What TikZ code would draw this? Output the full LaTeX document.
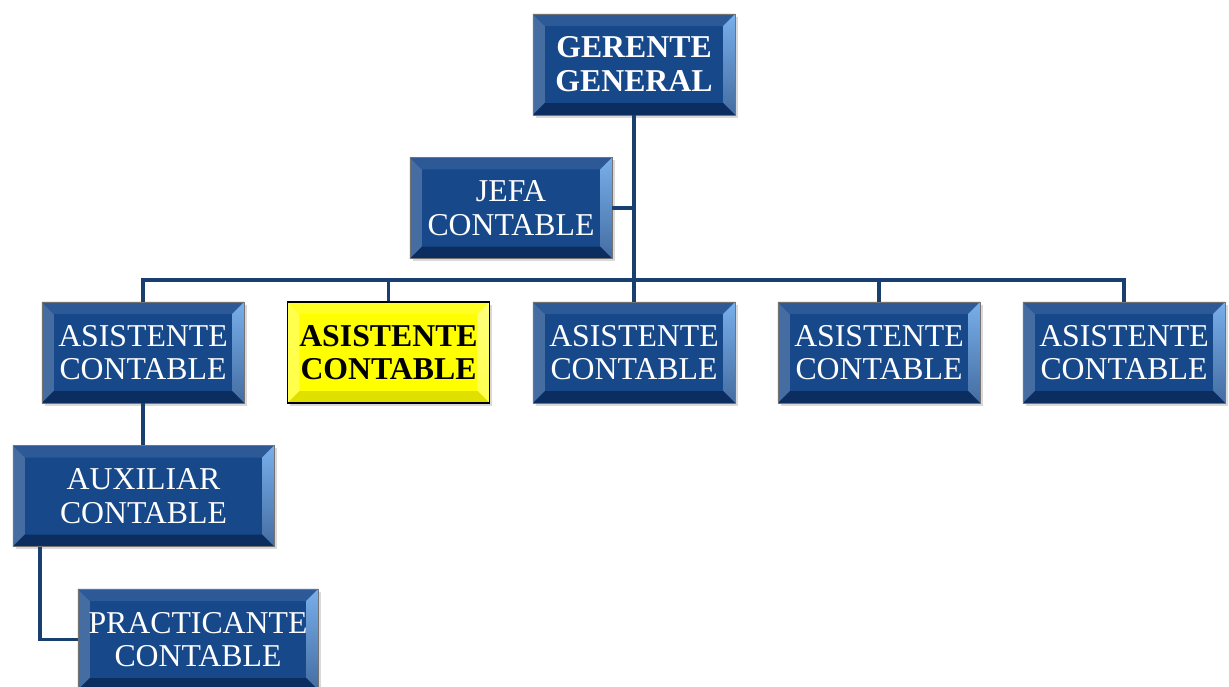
\documentclass[tikz,border=0pt]{standalone}
\usepackage{fontspec}
\setmainfont{Liberation Serif}
\usetikzlibrary{calc,shadows}

\definecolor{azul}{RGB}{22,72,138}
\definecolor{azulbrillo}{RGB}{120,175,235}
\definecolor{azuloscuro}{RGB}{12,45,95}
\definecolor{linea}{RGB}{25,62,112}
\definecolor{amarillo}{RGB}{255,255,0}

\tikzset{
  bisel/.style n args={4}{path picture={
      \fill[#1] (path picture bounding box.north west) -- ($(path picture bounding box.north west)+(0.3cm,-0.3cm)$)
        -- ($(path picture bounding box.south west)+(0.3cm,0.3cm)$) -- (path picture bounding box.south west) -- cycle;
      \fill[#2] (path picture bounding box.north west) -- ($(path picture bounding box.north west)+(0.3cm,-0.3cm)$)
        -- ($(path picture bounding box.north east)+(-0.3cm,-0.3cm)$) -- (path picture bounding box.north east) -- cycle;
      \shade[top color=#3, bottom color=#1] (path picture bounding box.north east) -- ($(path picture bounding box.north east)+(-0.3cm,-0.3cm)$)
        -- ($(path picture bounding box.south east)+(-0.3cm,0.3cm)$) -- (path picture bounding box.south east) -- cycle;
      \fill[#4] (path picture bounding box.south west) -- ($(path picture bounding box.south west)+(0.3cm,0.3cm)$)
        -- ($(path picture bounding box.south east)+(-0.3cm,0.3cm)$) -- (path picture bounding box.south east) -- cycle;
    }},
  cargo/.style={draw=black!55, thin, fill=azul, text=white, align=center,
    minimum width=5.05cm, minimum height=2.525cm, inner sep=0pt,
    font=\fontsize{22.6}{24}\selectfont,
    drop shadow={shadow xshift=2pt, shadow yshift=-2pt, opacity=0.3},
    bisel={azul!80!white}{azul!90!white}{azulbrillo}{azuloscuro}},
  destacado/.style={cargo, fill=amarillo, text=black, draw=black, thick,
    font=\fontsize{22.6}{24}\selectfont\bfseries,
    bisel={amarillo!70!white}{amarillo!85!white}{amarillo!50!white}{amarillo!88!black}},
  conector/.style={draw=linea, line width=2.8pt}
}

\begin{document}
\begin{tikzpicture}[x=0.025cm, y=-0.025cm]
  \useasboundingbox (0,0) rectangle (1229,686);

  % cargos
  \node[cargo, font=\fontsize{22.6}{24}\selectfont\bfseries] (gerente) at (634,64.5) {GERENTE\\GENERAL};
  \node[cargo] (jefa) at (511,208) {JEFA\\CONTABLE};
  \node[cargo] (asis1) at (143,352.5) {ASISTENTE\\CONTABLE};
  \node[destacado] (asis2) at (388.5,352.5) {ASISTENTE\\CONTABLE};
  \node[cargo] (asis3) at (634,352.5) {ASISTENTE\\CONTABLE};
  \node[cargo] (asis4) at (879,352.5) {ASISTENTE\\CONTABLE};
  \node[cargo] (asis5) at (1124,352.5) {ASISTENTE\\CONTABLE};
  \node[cargo, minimum width=6.525cm] (auxiliar) at (143.5,496) {AUXILIAR\\CONTABLE};
  \node[cargo, minimum width=6cm] (practicante) at (198,639.5) {PRACTICANTE\\CONTABLE};

  % lineas
  \coordinate (bus) at (634,280);
  \coordinate (codo) at (40,640);
  \draw[conector] (gerente.south) -- (asis3.north);
  \draw[conector] (jefa.east) -- (jefa.east -| gerente.south);
  \draw[conector] (asis1.north) |- (bus) -| (asis5.north);
  \draw[conector] (asis2.north) -- (asis2.north |- bus);
  \draw[conector] (asis4.north) -- (asis4.north |- bus);
  \draw[conector] (asis1.south) -- (auxiliar.north -| asis1.south);
  \draw[conector] (auxiliar.south -| codo) |- (practicante.west);
\end{tikzpicture}
\end{document}
